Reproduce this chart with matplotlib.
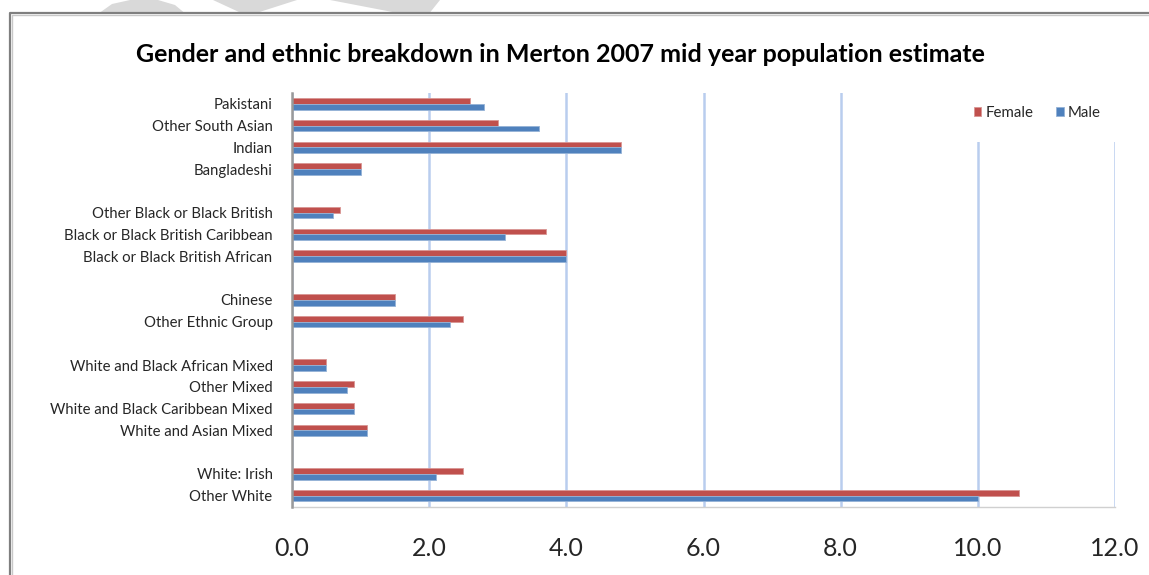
import numpy as np
import matplotlib
matplotlib.use("Agg")
import matplotlib.pyplot as plt
from matplotlib.patches import Rectangle, Polygon
from matplotlib.lines import Line2D

# Ethnic groups, top to bottom; empty strings are spacer rows between groups
categories = [
    "Pakistani", "Other South Asian", "Indian", "Bangladeshi", "",
    "Other Black or Black British", "Black or Black British Caribbean",
    "Black or Black British African", "",
    "Chinese", "Other Ethnic Group", "",
    "White and Black African Mixed", "Other Mixed",
    "White and Black Caribbean Mixed", "White and Asian Mixed", "",
    "White: Irish", "Other White",
]
female = [2.6, 3.0, 4.8, 1.0, None,
          0.7, 3.7, 4.0, None,
          1.5, 2.5, None,
          0.5, 0.9, 0.9, 1.1, None,
          2.5, 10.6]
male = [2.8, 3.6, 4.8, 1.0, None,
        0.6, 3.1, 4.0, None,
        1.5, 2.3, None,
        0.5, 0.8, 0.9, 1.1, None,
        2.1, 10.0]
x_ticks = [0.0, 2.0, 4.0, 6.0, 8.0, 10.0, 12.0]
title = "Gender and ethnic breakdown in Merton 2007 mid year population estimate"

W, H = 1149, 575
FONT = "Lato"
plt.rcParams["font.family"] = [FONT, "DejaVu Sans"]

fig = plt.figure(figsize=(W / 100, H / 100), dpi=100)
fig.patch.set_facecolor("white")


def fx(px):
    return px / W


def fy(py):
    return 1 - py / H


# plot area in pixel bounds
left, right, top, bottom = 292, 1115, 93, 506.6
ax = fig.add_axes([fx(left), fy(bottom), fx(right) - fx(left), fy(top) - fy(bottom)])

pos = np.arange(len(categories))
bar_h = 0.265
red = "#c0504d"
blue = "#4f81bd"

f_idx = [i for i, v in enumerate(female) if v is not None]
m_idx = [i for i, v in enumerate(male) if v is not None]
ax.barh(pos[f_idx] - bar_h / 2, [female[i] for i in f_idx], height=bar_h,
        color=red, edgecolor="#d99694", linewidth=0.6, label="Female", zorder=3)
ax.barh(pos[m_idx] + bar_h / 2, [male[i] for i in m_idx], height=bar_h,
        color=blue, edgecolor="#95b3d7", linewidth=0.6, label="Male", zorder=3)

ax.set_xlim(0, 12)
ax.set_ylim(len(categories) - 0.5, -0.5)

ax.set_yticks(pos)
ax.set_yticklabels(categories, fontsize=10.7, color="#262626")
ax.tick_params(axis="y", length=0, pad=14)
ax.set_xticks(x_ticks)
ax.set_xticklabels([f"{t:.1f}" for t in x_ticks], fontsize=18, color="#262626")
ax.tick_params(axis="x", length=0, pad=22)

ax.grid(axis="x", color="#b9cdee", linewidth=1.8, zorder=1)
ax.grid(axis="y", visible=False)
ax.set_axisbelow(True)

ax.spines["top"].set_visible(False)
ax.spines["right"].set_visible(False)
ax.spines["left"].set_color("#9a9a9a")
ax.spines["left"].set_linewidth(1.8)
ax.spines["left"].set_zorder(4)
ax.spines["bottom"].set_color("#d0d0d0")
ax.spines["bottom"].set_linewidth(1.0)

# white backing behind the legend covers the tops of the gridlines
fig.patches.append(Rectangle((fx(958), fy(142)), fx(1125) - fx(958), fy(93) - fy(142),
                             transform=fig.transFigure, facecolor="white",
                             edgecolor="none", zorder=5))
leg = fig.legend(loc="center left", bbox_to_anchor=(fx(966), fy(113)), frameon=False,
                 ncol=2, fontsize=10.8, handlelength=0.5, handleheight=0.5,
                 handletextpad=0.3, columnspacing=1.5, borderpad=0)
leg.set_zorder(6)
for t in leg.get_texts():
    t.set_color("#262626")

fig.text(fx(560), fy(55), title, ha="center", va="center", fontsize=18,
         fontweight="bold", color="black")

# outer chart frame (runs off the right and bottom edges)
fig.add_artist(Line2D([fx(10), fx(10), fx(W + 5)], [fy(H + 5), fy(13), fy(13)],
                      transform=fig.transFigure, color="#7f7f7f", linewidth=1.6))
fig.add_artist(Line2D([fx(12), fx(12), fx(W + 5)], [fy(H + 5), fy(15), fy(15)],
                      transform=fig.transFigure, color="#c8c8c8", linewidth=1.0))

# faint decorative swooshes above the frame
swooshes = [
    [(100, 12.5), (112, 4), (130, 0), (158, 0), (175, 5), (184, 12.5)],
    [(213, 0), (297, 0), (258, 12.5), (240, 12.5)],
    [(330, 0), (440, 0), (430, 12.5), (395, 12.5)],
]
for pts in swooshes:
    fig.add_artist(Polygon([(fx(x), fy(y)) for x, y in pts], closed=True,
                           transform=fig.transFigure, facecolor="#d9d9d9",
                           edgecolor="none"))

fig.savefig("out.png", dpi=100, facecolor="white")
